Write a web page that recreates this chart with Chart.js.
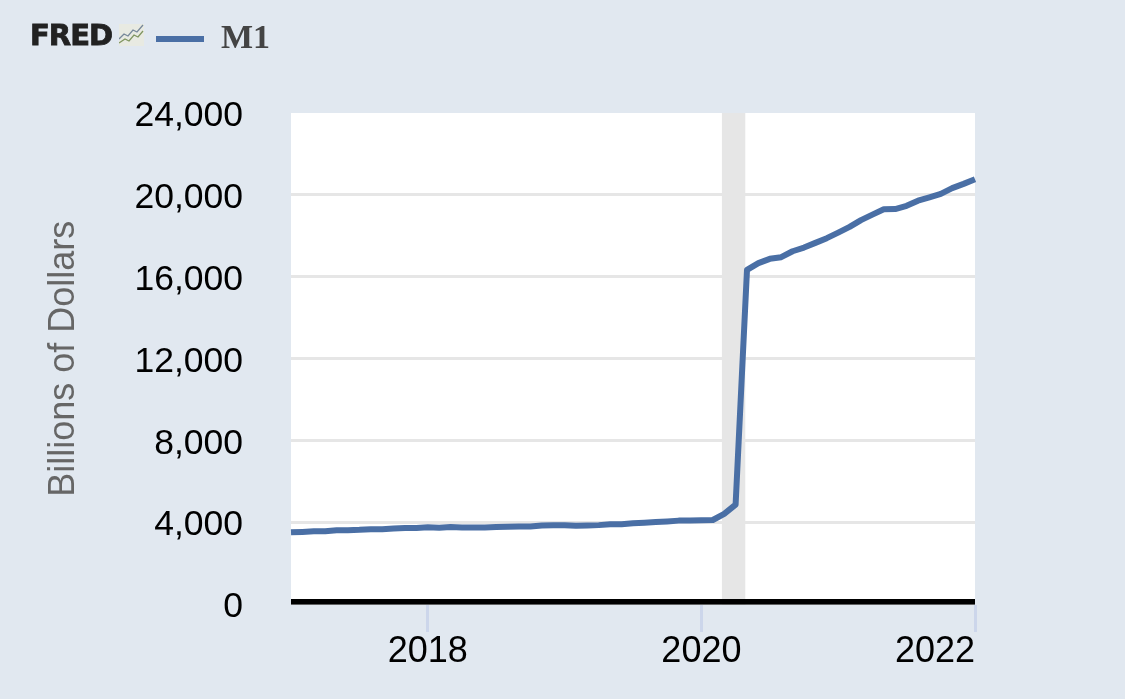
<!DOCTYPE html>
<html>
<head>
<meta charset="utf-8">
<title>M1</title>
<script src="https://cdn.jsdelivr.net/npm/chart.js@4"></script>
<style>
    html, body { margin: 0; padding: 0; background: #e1e8f0; overflow: hidden; }
    #wrap { position: relative; width: 1125px; height: 699px; }
    #logo { position: absolute; left: 30px; top: 18px; font: bold 29px "DejaVu Sans"; letter-spacing: -1px; color: #222; -webkit-text-stroke: 0.8px #222; }
    #spark { position: absolute; left: 119px; top: 24px; }
</style>
</head>
<body>
<div id="wrap">
    <canvas id="chart" width="1125" height="699"></canvas>
    <div id="logo">FRED</div>
    <svg id="spark" width="25" height="22" viewBox="0 0 25 22">
        <rect width="25" height="22" fill="#e8eae2"/>
        <polyline points="0,15 5,10 9,12 14,6 18,8 24,1" fill="none" stroke="#77889a" stroke-width="1.3"/>
        <polyline points="0,19 6,15 10,17 15,11 19,13 24,7" fill="none" stroke="#7f9560" stroke-width="1.3"/>
    </svg>
</div>
<script>
// monthly, 2017-01 .. 2022-01
var years = [2017, 2018, 2019, 2020, 2021, 2022];
var yearTicks = ["2018", "2020", "2022"];
var m1_2017 = [3530,3550,3580,3580,3625,3635,3650,3680,3680,3710,3740,3745];
var m1_2018 = [3775,3750,3785,3770,3760,3765,3790,3800,3815,3810,3860,3870];
var m1_2019 = [3875,3845,3865,3880,3920,3925,3970,3995,4030,4060,4100,4105];
var m1_2020 = [4120,4130,4430,4880,16340,16670,16880,16960,17250,17430,17660,17890];
var m1_2021 = [18160,18440,18770,19040,19300,19310,19470,19720,19880,20050,20330,20540];
var m1_2022 = [20770];
var recession = [37.8, 39.85]; // position on the month axis

var months = [];
years.forEach(function(y) {
    var n = y == 2022 ? 1 : 12;
    for (var i = 1; i <= n; i++) {
        months.push(y + "-" + (i < 10 ? "0" + i : i));
    }
});
var m1 = m1_2017.concat(m1_2018, m1_2019, m1_2020, m1_2021, m1_2022);

var sansFont = "'Liberation Sans', Arial, sans-serif";

var plotPlugin = {
    id: "plotParts",
    beforeDraw: function(chart) {
        var a = chart.chartArea, ctx = chart.ctx;
        ctx.save();
        ctx.fillStyle = "#ffffff";
        ctx.fillRect(a.left, a.top, a.right - a.left, a.bottom - a.top);
        ctx.restore();
        // legend sits in the header next to the logo
        chart.legend.left = 156;
        chart.legend.top = 22;
    },
    beforeDatasetsDraw: function(chart) {
        var a = chart.chartArea, ctx = chart.ctx, x = chart.scales.x;
        var x0 = x.getPixelForValue(recession[0]), x1 = x.getPixelForValue(recession[1]);
        ctx.save();
        ctx.fillStyle = "#e6e6e6";
        ctx.fillRect(x0, a.top, x1 - x0, a.bottom - a.top);
        ctx.restore();
    },
    afterDatasetsDraw: function(chart) {
        // axis line sits just above the zero position
        var a = chart.chartArea, ctx = chart.ctx;
        ctx.save();
        ctx.fillStyle = "#000000";
        ctx.fillRect(a.left, a.bottom - 5.6, a.right - a.left, 5.6);
        ctx.restore();
    }
};

new Chart(document.getElementById("chart"), {
    type: "line",
    plugins: [plotPlugin],
    data: {
        labels: months,
        datasets: [{
            label: "M1",
            data: m1,
            borderColor: "#4a6fa5",
            backgroundColor: "#4a6fa5",
            borderWidth: 6,
            pointRadius: 0,
            tension: 0,
            borderJoinStyle: "round"
        }]
    },
    options: {
        responsive: false,
        animation: false,
        locale: "en-US",
        layout: { padding: { left: 0, right: 150, top: 113, bottom: 0 } },
        plugins: {
            tooltip: { enabled: false },
            legend: {
                position: "chartArea",
                align: "start",
                labels: {
                    padding: 0,
                    boxWidth: 48,
                    boxHeight: 6,
                    color: "#444444",
                    font: { family: "'Liberation Serif', serif", weight: "bold", size: 34 },
                    generateLabels: function(chart) {
                        var items = Chart.defaults.plugins.legend.labels.generateLabels(chart);
                        items[0].lineWidth = 0;
                        return items;
                    }
                }
            }
        },
        scales: {
            x: {
                type: "category",
                border: { display: false },
                grid: {
                    drawOnChartArea: false,
                    tickLength: 27.4,
                    tickWidth: 3,
                    tickColor: function(c) { return c.index == 0 ? "rgba(0,0,0,0)" : "#ccd6eb"; }
                },
                afterBuildTicks: function(scale) {
                    // first tick is kept empty so that "inner" only pushes the last label in
                    scale.ticks = scale.ticks.filter(function(t) {
                        var name = months[t.value];
                        return t.value == 0 || (name.slice(5) == "01" && yearTicks.indexOf(name.slice(0, 4)) >= 0);
                    });
                },
                afterFit: function(scale) { scale.height = 699 - 604.6; },
                ticks: {
                    autoSkip: false,
                    maxRotation: 0,
                    align: "inner",
                    padding: -2,
                    color: "#000000",
                    font: { family: sansFont, size: 36 },
                    callback: function(value, index) {
                        return index == 0 ? "" : months[value].slice(0, 4);
                    }
                }
            },
            y: {
                min: 0,
                max: 24000,
                border: { display: false },
                grid: {
                    drawTicks: false,
                    lineWidth: 3,
                    color: function(c) {
                        var v = c.tick.value;
                        return (v == 0 || v == 24000) ? "rgba(0,0,0,0)" : "#e6e6e6";
                    }
                },
                afterFit: function(scale) { scale.width = 291; },
                title: {
                    display: true,
                    text: "Billions of Dollars",
                    color: "#666666",
                    font: { family: sansFont, size: 36 },
                    padding: { top: 42, bottom: 0 }
                },
                ticks: {
                    stepSize: 4000,
                    padding: 48,
                    labelOffset: 3,
                    color: "#000000",
                    font: { family: sansFont, size: 35.5 }
                }
            }
        }
    }
});
</script>
</body>
</html>
